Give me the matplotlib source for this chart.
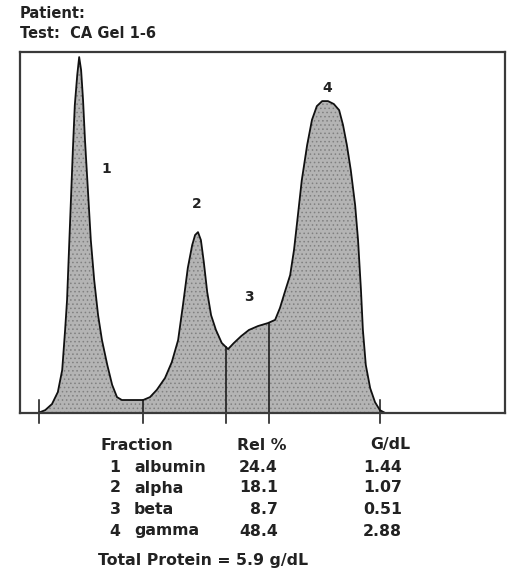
"""
Serum protein electrophoresis densitometer scan (CA gel) with fraction table.
"""
import numpy as np
import matplotlib
matplotlib.use("Agg")
import matplotlib.pyplot as plt

# ── Data ─────────────────────────────────────────────────────────
# migration position (0-100) and density (0-100)
position = [0.0, 3.7, 5.2, 6.6, 7.8, 8.7, 9.3, 9.7, 10.1, 10.5, 10.9, 11.3, 11.8,
            12.2, 12.6, 13.0, 13.4, 14.0, 14.6, 15.3, 16.1, 16.9, 18.0, 19.0,
            20.0, 21.0, 25.4, 26.8, 28.2, 29.9, 31.3, 32.6, 33.6, 34.6, 35.5,
            36.1, 36.7, 37.3, 37.9, 38.6, 39.4, 40.4, 41.6, 42.9, 44.1, 45.6,
            47.2, 49.1, 51.1, 52.6, 53.6, 54.6, 55.7, 56.5, 57.3, 58.1, 59.2,
            60.2, 61.2, 62.3, 63.5, 64.7, 65.8, 66.6, 67.4, 68.2, 69.1, 69.7,
            70.3, 70.7, 71.3, 72.2, 73.2, 74.2, 75.3, 100.0]
density = [0.0, 0.0, 0.8, 2.5, 5.8, 11.9, 23.0, 31.3, 45.2, 59.0, 72.9, 85.3, 93.6,
           98.6, 95.0, 86.7, 75.6, 61.8, 47.9, 36.8, 27.1, 20.2, 13.3, 7.8,
           4.4, 3.6, 3.6, 4.4, 6.4, 9.7, 14.1, 20.2, 29.9, 40.2, 46.5,
           49.3, 50.1, 47.9, 41.8, 33.5, 27.1, 23.0, 19.4, 17.7, 19.4, 21.3,
           23.0, 24.1, 24.9, 25.8, 29.1, 33.5, 38.2, 45.2, 54.8, 64.5, 74.2,
           81.2, 85.0, 86.4, 86.4, 85.6, 83.9, 79.8, 74.2, 67.3, 57.6, 47.9,
           34.1, 23.0, 13.3, 6.9, 3.0, 0.8, 0.0, 0.0]

dividers = [3.9, 25.4, 42.5, 51.3, 74.2]
peak_labels = ["1", "2", "3", "4"]
peak_label_xy = [(17.7, 67.6), (36.5, 57.9), (47.2, 32.1), (63.3, 90.0)]

fraction_num = ["1", "2", "3", "4"]
fraction_name = ["albumin", "alpha", "beta", "gamma"]
rel_pct = [24.4, 18.1, 8.7, 48.4]
g_dl = [1.44, 1.07, 0.51, 2.88]
total_protein = 5.9

# ── Figure ───────────────────────────────────────────────────────
W, H = 529, 571
fig = plt.figure(figsize=(W / 100, H / 100), dpi=100)
fig.patch.set_facecolor("white")
plt.rcParams["hatch.linewidth"] = 0.6

FONT = "DejaVu Sans"
INK = "#222222"

def fx(px):
    return px / W

def fy(py):
    return 1 - py / H

# plot area: x 20..505 px, y 52..413 px
ax = fig.add_axes([fx(20), fy(413), (505 - 20) / W, (413 - 52) / H])
ax.set_xlim(0, 100)
ax.set_ylim(0, 100)
ax.set_xticks([])
ax.set_yticks([])
for s in ax.spines.values():
    s.set_color("#3a3a3a")
    s.set_linewidth(1.6)

ax.fill_between(position, density, 0, facecolor="#b4b4b4", edgecolor="#808080",
                hatch="....", linewidth=0)
ax.plot(position, density, color="#111111", linewidth=1.3)

# fraction dividers: from below the baseline up to the curve
for d in dividers:
    top = max(np.interp(d, position, density), 3.5)
    ax.plot([d, d], [-2.8, top], color="#111111", linewidth=1.1, clip_on=False)

for lab, (lx, ly) in zip(peak_labels, peak_label_xy):
    ax.text(lx, ly, lab, ha="center", va="center", fontsize=10, fontweight="bold",
            family=FONT, color=INK)

# ── Header ───────────────────────────────────────────────────────
fig.text(fx(20), fy(13), "Patient:", ha="left", va="center", fontsize=10.5,
         fontweight="bold", family=FONT, color=INK)
fig.text(fx(20), fy(34), "Test:  CA Gel 1-6", ha="left", va="center", fontsize=10.5,
         fontweight="bold", family=FONT, color=INK)

# ── Table ────────────────────────────────────────────────────────
tkw = dict(va="center", fontsize=11.3, fontweight="bold", family=FONT, color=INK)
fig.text(fx(100), fy(445), "Fraction", ha="left", **tkw)
fig.text(fx(237), fy(445), "Rel %", ha="left", **tkw)
fig.text(fx(370), fy(445), "G/dL", ha="left", **tkw)

row_y = [467, 488, 509, 531]
for y, n, name, r, g in zip(row_y, fraction_num, fraction_name, rel_pct, g_dl):
    fig.text(fx(115), fy(y), n, ha="center", **tkw)
    fig.text(fx(134), fy(y), name, ha="left", **tkw)
    fig.text(fx(278), fy(y), f"{r:.1f}", ha="right", **tkw)
    fig.text(fx(402), fy(y), f"{g:.2f}", ha="right", **tkw)

fig.text(fx(98), fy(561), f"Total Protein = {total_protein} g/dL", ha="left", **tkw)

fig.savefig("out.png", dpi=100, facecolor="white")
